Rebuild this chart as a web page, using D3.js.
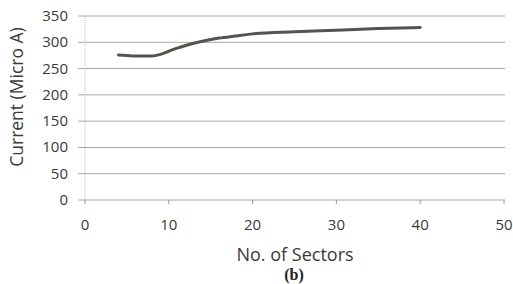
<!DOCTYPE html>
<html>
<head>
<meta charset="utf-8">
<script src="https://cdn.jsdelivr.net/npm/d3@7"></script>
<style>
  body { margin: 0; background: #fff; }
  text { font-family: "Open Sans", "Liberation Sans", sans-serif; fill: #3a3a3a; }
</style>
</head>
<body>
<div id="chart"></div>
<script>
var sectors = [4, 5, 6, 7, 8, 9, 10, 11, 12, 14, 16, 18, 20, 25, 30, 35, 40];
var current = [276, 275, 274, 274, 274, 277, 283, 289, 294, 302, 308, 312, 316, 320, 323, 326, 328];
var xTicks = [0, 10, 20, 30, 40, 50];
var yTicks = [0, 50, 100, 150, 200, 250, 300, 350];

var width = 513, height = 284;
var svg = d3.select("#chart").append("svg")
    .attr("width", width)
    .attr("height", height);

var x = d3.scaleLinear().domain([0, 50]).range([85, 504]);
var y = d3.scaleLinear().domain([0, 350]).range([200, 16]);

// gridlines
svg.append("g")
    .selectAll("line")
    .data(yTicks)
    .enter()
    .append("line")
    .attr("x1", 78)
    .attr("x2", 505)
    .attr("y1", d => y(d))
    .attr("y2", d => y(d))
    .attr("stroke", "#aaa5a0")
    .attr("stroke-width", 1);

// y axis line
svg.append("line")
    .attr("x1", x(0)).attr("x2", x(0))
    .attr("y1", y(350)).attr("y2", y(0))
    .attr("stroke", "#c4c0bc")
    .attr("stroke-dasharray", "1,1");

// x tick marks
svg.append("g")
    .selectAll("line")
    .data(xTicks)
    .enter()
    .append("line")
    .attr("x1", d => x(d)).attr("x2", d => x(d))
    .attr("y1", y(0)).attr("y2", y(0) + 4)
    .attr("stroke", "#999");

// tick labels
svg.append("g")
    .selectAll("text")
    .data(yTicks)
    .enter()
    .append("text")
    .attr("x", 68)
    .attr("y", d => y(d) + 5)
    .attr("text-anchor", "end")
    .style("font-size", "15px")
    .text(d => d);

svg.append("g")
    .selectAll("text")
    .data(xTicks)
    .enter()
    .append("text")
    .attr("x", d => x(d))
    .attr("y", 230)
    .attr("text-anchor", "middle")
    .style("font-size", "15px")
    .text(d => d);

// the curve
var line = d3.line()
    .x((d, i) => x(sectors[i]))
    .y(d => y(d))
    .curve(d3.curveMonotoneX);

svg.append("path")
    .datum(current)
    .attr("d", line)
    .attr("fill", "none")
    .attr("stroke", "#555350")
    .attr("stroke-width", 3)
    .attr("stroke-linecap", "round");

// axis titles
svg.append("text")
    .attr("transform", "translate(23,97)rotate(-90)")
    .attr("text-anchor", "middle")
    .style("font-size", "17.5px")
    .text("Current (Micro A)");

svg.append("text")
    .attr("x", 295)
    .attr("y", 261)
    .attr("text-anchor", "middle")
    .style("font-size", "18px")
    .text("No. of Sectors");

svg.append("text")
    .attr("x", 294)
    .attr("y", 280)
    .attr("text-anchor", "middle")
    .style("font-family", "'Liberation Serif', serif")
    .style("font-weight", "bold")
    .style("font-size", "16px")
    .style("fill", "#222")
    .text("(b)");
</script>
</body>
</html>
